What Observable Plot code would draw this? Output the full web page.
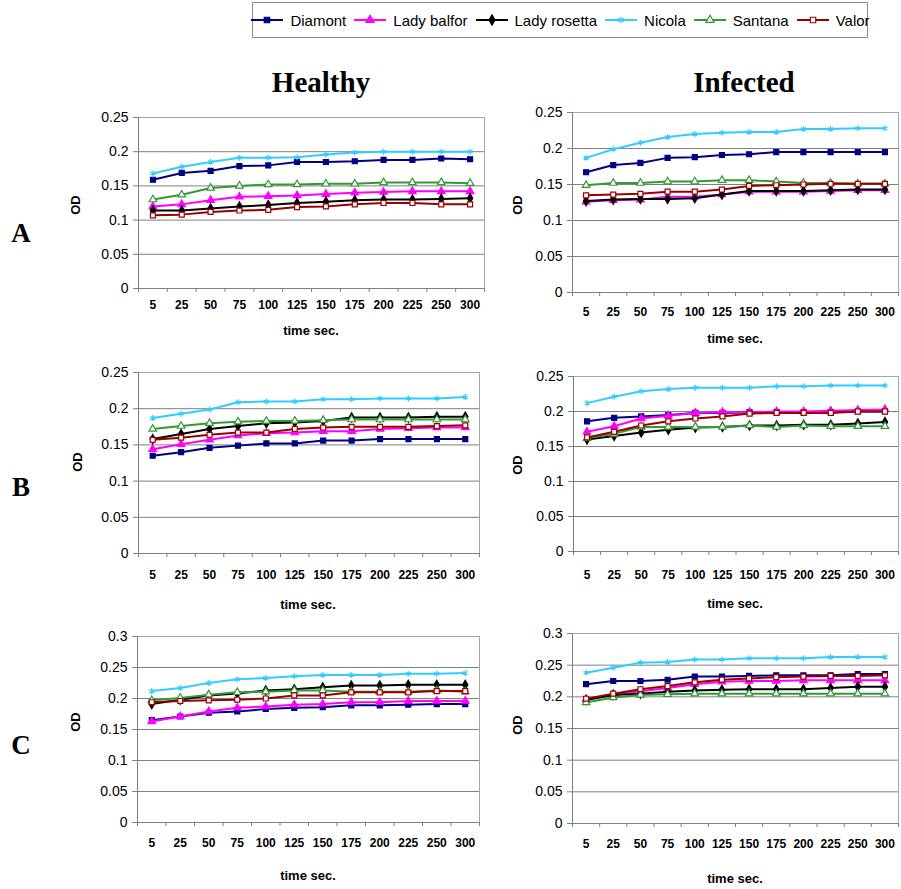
<!DOCTYPE html>
<html><head><meta charset="utf-8">
<script src="https://cdn.jsdelivr.net/npm/d3@7"></script>
<script src="https://cdn.jsdelivr.net/npm/@observablehq/plot@0.6"></script>
<style>
body{margin:0;background:#fff;}
#root{position:relative;width:901px;height:889px;overflow:hidden;font-family:Arial,"Liberation Sans",sans-serif;color:#000;}
.abs{position:absolute;}
.title{font-family:"Times New Roman","Liberation Serif",serif;font-weight:bold;font-size:29px;transform:translate(-50%,-50%);white-space:nowrap;}
.row{font-family:"Times New Roman","Liberation Serif",serif;font-weight:bold;font-size:27px;transform:translate(-50%,-50%);}
.od{font-weight:bold;font-size:13px;transform:translate(-50%,-50%) rotate(-90deg);white-space:nowrap;}
.xl{font-weight:bold;font-size:13px;transform:translate(-50%,-50%);white-space:nowrap;}
#legend{left:252px;top:2px;width:614px;height:34px;border:1px solid #8a8a8a;display:flex;align-items:center;justify-content:center;gap:7px;font-size:15px;background:#fff;}
#legend .item{display:flex;align-items:center;gap:6px;white-space:nowrap;}
</style></head><body><div id="root"></div>
<script>
const times = [5, 25, 50, 75, 100, 125, 150, 175, 200, 225, 250, 300];
const varieties = ["Diamont", "Lady balfor", "Lady rosetta", "Nicola", "Santana", "Valor"];

// values per panel, one row per variety (in the order above)
const healthyA = [
  [0.159,0.169,0.172,0.179,0.180,0.185,0.185,0.186,0.188,0.188,0.190,0.189],
  [0.120,0.123,0.129,0.134,0.135,0.136,0.138,0.140,0.141,0.142,0.142,0.142],
  [0.114,0.114,0.117,0.120,0.122,0.125,0.127,0.129,0.130,0.130,0.131,0.132],
  [0.168,0.178,0.185,0.191,0.191,0.192,0.196,0.199,0.200,0.200,0.200,0.200],
  [0.130,0.137,0.147,0.150,0.152,0.152,0.153,0.153,0.155,0.155,0.155,0.154],
  [0.107,0.108,0.112,0.114,0.115,0.119,0.120,0.123,0.125,0.125,0.123,0.123]
];
const infectedA = [
  [0.167,0.177,0.180,0.187,0.188,0.191,0.192,0.195,0.195,0.195,0.195,0.195],
  [0.126,0.128,0.129,0.133,0.133,0.136,0.140,0.140,0.140,0.141,0.142,0.142],
  [0.127,0.129,0.130,0.130,0.131,0.136,0.141,0.141,0.141,0.142,0.143,0.143],
  [0.187,0.199,0.208,0.216,0.220,0.222,0.223,0.223,0.227,0.227,0.228,0.228],
  [0.149,0.152,0.152,0.154,0.154,0.156,0.156,0.154,0.152,0.152,0.151,0.151],
  [0.135,0.136,0.137,0.140,0.140,0.143,0.148,0.149,0.150,0.151,0.151,0.151]
];
const healthyB = [
  [0.135,0.140,0.146,0.149,0.152,0.152,0.156,0.156,0.158,0.158,0.158,0.158],
  [0.144,0.151,0.157,0.163,0.166,0.167,0.169,0.169,0.172,0.173,0.174,0.174],
  [0.158,0.165,0.172,0.176,0.180,0.181,0.183,0.188,0.188,0.188,0.189,0.189],
  [0.187,0.193,0.199,0.209,0.210,0.210,0.213,0.213,0.214,0.214,0.214,0.216],
  [0.172,0.176,0.180,0.182,0.183,0.183,0.184,0.185,0.185,0.185,0.185,0.185],
  [0.157,0.160,0.164,0.167,0.167,0.172,0.174,0.175,0.175,0.175,0.176,0.177]
];
const infectedB = [
  [0.186,0.191,0.193,0.195,0.198,0.198,0.199,0.199,0.199,0.199,0.200,0.200],
  [0.171,0.179,0.190,0.194,0.198,0.199,0.199,0.200,0.200,0.201,0.202,0.203],
  [0.160,0.165,0.170,0.174,0.177,0.178,0.180,0.180,0.181,0.181,0.183,0.185],
  [0.212,0.221,0.229,0.232,0.234,0.234,0.234,0.236,0.236,0.237,0.237,0.237],
  [0.162,0.168,0.178,0.178,0.178,0.178,0.180,0.178,0.180,0.179,0.179,0.179],
  [0.163,0.171,0.180,0.186,0.190,0.193,0.197,0.198,0.198,0.198,0.200,0.200]
];
const healthyC = [
  [0.165,0.171,0.177,0.179,0.183,0.185,0.186,0.189,0.189,0.190,0.191,0.191],
  [0.163,0.171,0.179,0.185,0.187,0.190,0.191,0.194,0.194,0.196,0.196,0.196],
  [0.191,0.198,0.205,0.208,0.213,0.215,0.218,0.221,0.221,0.222,0.222,0.222],
  [0.212,0.217,0.225,0.231,0.233,0.236,0.238,0.238,0.238,0.240,0.240,0.241],
  [0.197,0.201,0.206,0.210,0.211,0.213,0.213,0.211,0.211,0.211,0.213,0.211],
  [0.194,0.196,0.197,0.198,0.200,0.205,0.205,0.210,0.210,0.210,0.212,0.212]
];
const infectedC = [
  [0.220,0.225,0.225,0.227,0.232,0.232,0.233,0.234,0.234,0.234,0.236,0.236],
  [0.196,0.204,0.209,0.214,0.220,0.224,0.225,0.225,0.226,0.226,0.226,0.226],
  [0.195,0.203,0.205,0.208,0.210,0.211,0.212,0.212,0.212,0.214,0.216,0.216],
  [0.238,0.246,0.254,0.255,0.259,0.259,0.261,0.261,0.261,0.263,0.263,0.263],
  [0.191,0.199,0.203,0.204,0.205,0.205,0.205,0.205,0.205,0.205,0.205,0.205],
  [0.197,0.205,0.212,0.217,0.223,0.227,0.229,0.231,0.232,0.233,0.233,0.234]
];

// styles
const colors = ["#000080", "#ff00ff", "#000000", "#33ccff", "#339933", "#990000"];
const symbols = ["square", "triangle", "diamond", "asterisk", "triangle", "square"];
const fills = ["#000080", "#ff00ff", "#000000", "none", "#ffffff", "#ffffff"];

const layout = [
  {data: healthyA, yMax: 0.25, fl: 138, fr: 484, ft: 117, fb: 288, pad: 12, od: [75, 205], xl: [311, 330]},
  {data: infectedA, yMax: 0.25, fl: 572, fr: 898, ft: 112, fb: 292, pad: 15, od: [517, 205], xl: [735, 338]},
  {data: healthyB, yMax: 0.25, fl: 138, fr: 479, ft: 372, fb: 553, pad: 17, od: [77, 462], xl: [308, 604]},
  {data: infectedB, yMax: 0.25, fl: 573, fr: 898, ft: 376, fb: 551, pad: 19, od: [517, 465], xl: [735, 603]},
  {data: healthyC, yMax: 0.3, fl: 137, fr: 479, ft: 636, fb: 822, pad: 16, od: [75, 722], xl: [308, 875]},
  {data: infectedC, yMax: 0.3, fl: 572, fr: 898, ft: 633, fb: 823, pad: 16, od: [517, 725], xl: [735, 878]}
];

const root = document.getElementById("root");
function addDiv(cls, text, x, y) {
  const d = document.createElement("div");
  d.className = "abs " + cls;
  d.textContent = text;
  d.style.left = x + "px";
  d.style.top = y + "px";
  root.appendChild(d);
  return d;
}

// legend
const legend = document.createElement("div");
legend.id = "legend";
legend.className = "abs";
const d3sym = {square: d3.symbolSquare, triangle: d3.symbolTriangle, diamond: d3.symbolDiamond, asterisk: d3.symbolAsterisk};
varieties.forEach((v, k) => {
  const item = document.createElement("div");
  item.className = "item";
  const svg = d3.create("svg").attr("width", 34).attr("height", 12);
  svg.append("line").attr("x1", 1).attr("x2", 33).attr("y1", 6).attr("y2", 6).attr("stroke", colors[k]).attr("stroke-width", 2);
  svg.append("path").attr("transform", "translate(17,6)")
    .attr("d", d3.symbol(d3sym[symbols[k]], 30)())
    .attr("fill", fills[k]).attr("stroke", colors[k]).attr("stroke-width", 1.2);
  item.appendChild(svg.node());
  const t = document.createElement("span");
  t.textContent = v;
  item.appendChild(t);
  legend.appendChild(item);
});
root.appendChild(legend);

addDiv("title", "Healthy", 321, 82);
addDiv("title", "Infected", 744, 82);
addDiv("row", "A", 21, 233);
addDiv("row", "B", 21, 487);
addDiv("row", "C", 21, 745);

const ML = 40, MR = 3, MT = 8, MB = 32;
const bounds = d3.range(13).map(i => i - 0.5);
const idx = d3.range(times.length);

layout.forEach(p => {
  const yTicks = d3.range(0, Math.round(p.yMax / 0.05) + 1).map(i => +(i * 0.05).toFixed(2));
  const marks = [
    Plot.gridY(yTicks.slice(1, -1), {stroke: "#7f7f7f", strokeOpacity: 1}),
    Plot.frame({stroke: "#a6a6a6"}),
    Plot.ruleY([0], {stroke: "#7f7f7f"}),
    Plot.ruleX([bounds[0]], {stroke: "#7f7f7f"}),
    Plot.axisY(yTicks, {tickSize: 5, tickPadding: 5, stroke: "#7f7f7f", fill: "#000", fontSize: 14,
      tickFormat: d => String(+d.toFixed(2)), label: null}),
    Plot.axisX(idx, {tickSize: 0, tickPadding: p.pad, fill: "#000", fontSize: 12, fontWeight: "bold",
      tickFormat: i => String(times[i]), label: null}),
    Plot.axisX(bounds, {tickSize: 4, stroke: "#7f7f7f", tickFormat: () => "", label: null})
  ];
  varieties.forEach((v, k) => {
    const rows = p.data[k].map((y, i) => ({i, y, v}));
    marks.push(Plot.line(rows, {x: "i", y: "y", stroke: colors[k], strokeWidth: 2}));
    marks.push(Plot.dot(rows, {x: "i", y: "y", symbol: () => symbols[k], r: 2.8,
      fill: fills[k], stroke: colors[k], strokeWidth: 1.2}));
  });
  const chart = Plot.plot({
    width: p.fr - p.fl + ML + MR,
    height: p.fb - p.ft + MT + MB,
    marginLeft: ML, marginRight: MR, marginTop: MT, marginBottom: MB,
    x: {type: "linear", domain: [bounds[0], bounds[bounds.length - 1]]},
    y: {domain: [0, p.yMax]},
    style: {fontFamily: "Arial, 'Liberation Sans', sans-serif", background: "transparent", overflow: "visible"},
    marks
  });
  const wrap = document.createElement("div");
  wrap.className = "abs";
  wrap.style.left = (p.fl - ML) + "px";
  wrap.style.top = (p.ft - MT) + "px";
  wrap.appendChild(chart);
  root.appendChild(wrap);
  addDiv("od", "OD", p.od[0], p.od[1]);
  addDiv("xl", "time sec.", p.xl[0], p.xl[1]);
});
</script></body></html>
